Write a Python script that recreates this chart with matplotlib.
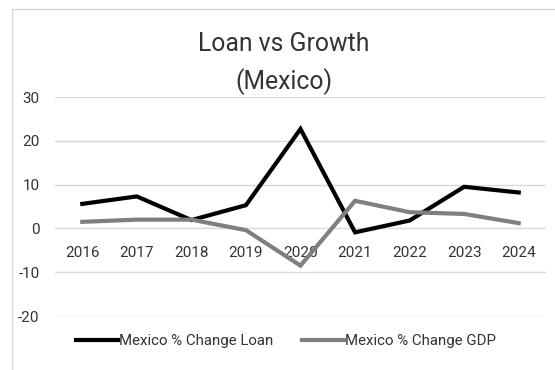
import matplotlib
matplotlib.use("Agg")
import matplotlib.pyplot as plt
from matplotlib.patches import Rectangle

plt.rcParams['font.family'] = ['Roboto', 'DejaVu Sans']

years = ['2016', '2017', '2018', '2019', '2020', '2021', '2022', '2023', '2024']
loan_change = [5.6, 7.3, 1.9, 5.3, 22.7, -0.9, 1.8, 9.5, 8.2]
gdp_change = [1.5, 2.0, 2.0, -0.4, -8.5, 6.3, 3.7, 3.3, 1.2]
y_ticks = [-20, -10, 0, 10, 20, 30]

text_color = '#333333'
grid_color = '#d9d9d9'

W, H = 555, 370
fig = plt.figure(figsize=(W / 100, H / 100), dpi=100)
fig.patch.set_facecolor('white')

# chart-area border (runs off the right and bottom edges)
fig.patches.append(Rectangle((12 / W, -0.1), 1.2, 1 - 9 / H + 0.1,
                             transform=fig.transFigure, fill=False,
                             edgecolor=grid_color, linewidth=1.0))

ax = fig.add_axes([55 / W, 1 - 316 / H, 491 / W, 219 / H])
x = list(range(len(years)))
ax.plot(x, loan_change, color='black', lw=3.0, solid_joinstyle='miter',
        label='Mexico % Change Loan')
ax.plot(x, gdp_change, color='#7f7f7f', lw=3.0, solid_joinstyle='miter',
        label='Mexico % Change GDP')

ax.set_xlim(-0.5, len(years) - 0.5)
ax.set_ylim(-20, 30)
ax.set_yticks(y_ticks)
ax.set_yticklabels([str(v) for v in y_ticks])
ax.yaxis.grid(True, color=grid_color, lw=1.0)
ax.set_axisbelow(True)

ax.set_xticks(x)
ax.set_xticklabels(years)
ax.spines['bottom'].set_position(('data', 0))
for s in ax.spines.values():
    s.set_visible(False)
ax.tick_params(axis='x', length=0, pad=13, labelsize=11, colors=text_color)
ax.tick_params(axis='y', length=0, pad=11, labelsize=11, colors=text_color)

fig.text(284 / W, 1 - 51 / H, 'Loan vs Growth', ha='center', va='baseline',
         fontsize=17.8, color=text_color)
fig.text(284 / W, 1 - 89 / H, '(Mexico)', ha='center', va='baseline',
         fontsize=17.8, color=text_color)

leg = ax.legend(loc='center', bbox_to_anchor=(286 / W, 1 - 341 / H),
                bbox_transform=fig.transFigure, ncol=2, frameon=False,
                fontsize=10.8, handlelength=2.8, handletextpad=0.1,
                columnspacing=1.9)
for t in leg.get_texts():
    t.set_color(text_color)

fig.savefig('out.png', dpi=100)
